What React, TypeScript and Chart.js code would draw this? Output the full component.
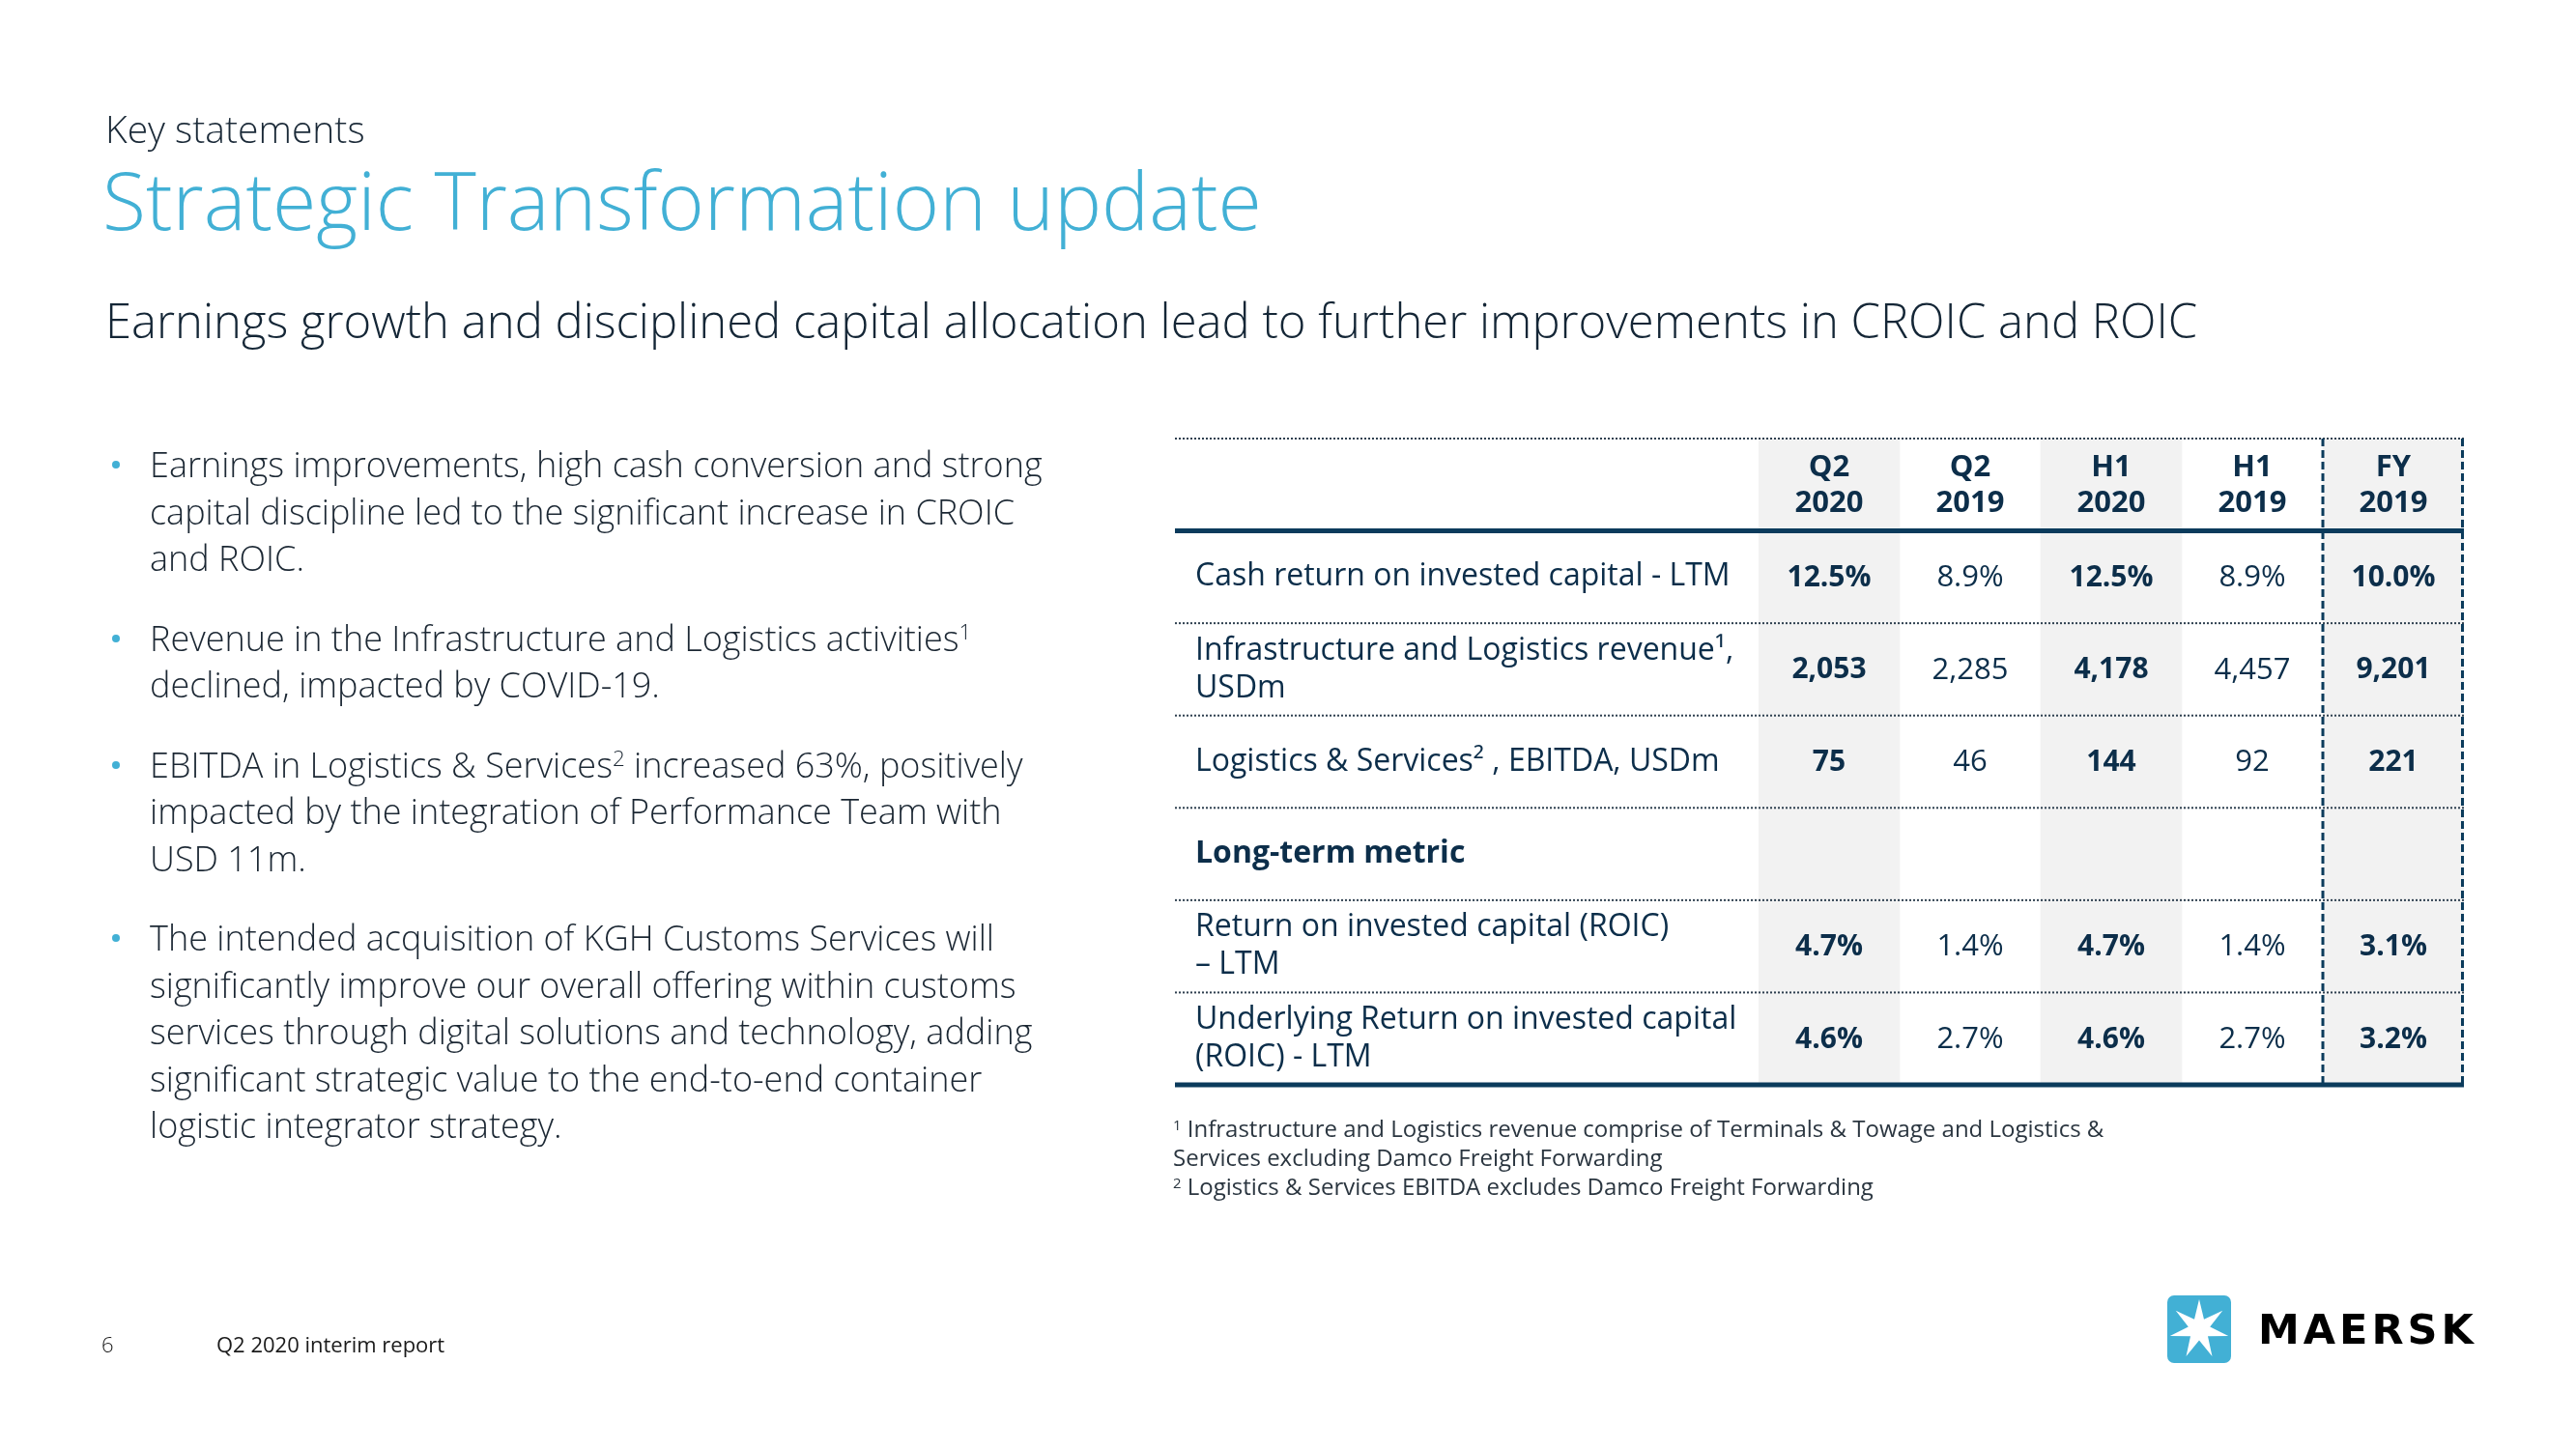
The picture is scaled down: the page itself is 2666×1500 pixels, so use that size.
import React, { useEffect, useRef } from "react";
import { Chart, registerables } from "chart.js";

Chart.register(...registerables);

// ---------- data ----------
const rowLabels: (string | string[])[] = [
  "",
  "Cash return on invested capital - LTM",
  ["Infrastructure and Logistics revenue\u00B9,", "USDm"],
  "Logistics & Services\u00B2 , EBITDA, USDm",
  "Long-term metric",
  ["Return on invested capital (ROIC)", "\u2013 LTM"],
  ["Underlying Return on invested capital", "(ROIC) - LTM"],
];
const columnLabels = ["Q2 2020", "Q2 2019", "H1 2020", "H1 2019", "FY 2019"];
const columnHeaders: string[][] = [
  ["Q2", "2020"],
  ["Q2", "2019"],
  ["H1", "2020"],
  ["H1", "2019"],
  ["FY", "2019"],
];
const q2_2020 = ["12.5%", "2,053", "75", "", "4.7%", "4.6%"];
const q2_2019 = ["8.9%", "2,285", "46", "", "1.4%", "2.7%"];
const h1_2020 = ["12.5%", "4,178", "144", "", "4.7%", "4.6%"];
const h1_2019 = ["8.9%", "4,457", "92", "", "1.4%", "2.7%"];
const fy_2019 = ["10.0%", "9,201", "221", "", "3.1%", "3.2%"];
const columnValues = [q2_2020, q2_2019, h1_2020, h1_2019, fy_2019];
const highlightColumns = [true, false, true, false, true];
const boldRow = 4;

// ---------- style ----------
const NAVY_TEXT = "#0c2e4a";
const NAVY_LINE = "#0b3b5c";
const DOT_LINE = "#2f4050";
const SHADE = "#f2f2f2";
const MAERSK_BLUE = "#42B0D5";
const FONT = "'Open Sans', 'Noto Sans', sans-serif";
const TABLE_LEFT = 1216;

const tablePlugin = {
  id: "tableDecor",
  afterDatasetsDraw(chart: any) {
    const { ctx, chartArea } = chart;
    const x = chart.scales.x;
    const y = chart.scales.y;
    const right = chartArea.right;
    ctx.save();

    // row separators
    const nRows = rowLabels.length;
    for (let i = 0; i <= nRows; i++) {
      let yy: number;
      if (i === 0) yy = chartArea.top;
      else if (i === nRows) yy = chartArea.bottom;
      else yy = (y.getPixelForValue(i - 1) + y.getPixelForValue(i)) / 2;
      ctx.beginPath();
      if (i === 1 || i === nRows) {
        ctx.setLineDash([]);
        ctx.lineWidth = 5;
        ctx.strokeStyle = NAVY_LINE;
      } else {
        ctx.setLineDash([2, 2]);
        ctx.lineWidth = 2;
        ctx.strokeStyle = DOT_LINE;
      }
      ctx.moveTo(TABLE_LEFT, yy);
      ctx.lineTo(right, yy);
      ctx.stroke();
    }

    // dashed verticals around the full-year column
    const last = columnLabels.length - 1;
    const xs = [
      (x.getPixelForValue(last - 1) + x.getPixelForValue(last)) / 2,
      right - 1.5,
    ];
    ctx.setLineDash([8, 4]);
    ctx.lineWidth = 3;
    ctx.strokeStyle = NAVY_LINE;
    xs.forEach((xx) => {
      ctx.beginPath();
      ctx.moveTo(xx, chartArea.top);
      ctx.lineTo(xx, chartArea.bottom);
      ctx.stroke();
    });
    ctx.setLineDash([]);

    // headers
    ctx.fillStyle = NAVY_TEXT;
    ctx.textAlign = "center";
    ctx.textBaseline = "middle";
    ctx.font = `bold 31px ${FONT}`;
    const hy = y.getPixelForValue(0);
    columnHeaders.forEach((lines, c) => {
      const cx = x.getPixelForValue(c);
      ctx.fillText(lines[0], cx, hy - 18);
      ctx.fillText(lines[1], cx, hy + 19);
    });

    // cells
    columnValues.forEach((vals, c) => {
      const cx = x.getPixelForValue(c);
      ctx.font = highlightColumns[c]
        ? `bold 30px ${FONT}`
        : `normal 31px ${FONT}`;
      vals.forEach((v, r) => {
        if (!v) return;
        ctx.fillText(v, cx, y.getPixelForValue(r + 1) + 1);
      });
    });
    ctx.restore();
  },
};

function TableChart() {
  const ref = useRef<HTMLCanvasElement | null>(null);
  useEffect(() => {
    if (!ref.current) return;
    const chart = new Chart(ref.current, {
      type: "bar",
      data: {
        labels: columnLabels,
        datasets: [
          {
            label: "shade",
            data: highlightColumns.map((h) => (h ? [0, 1] : null)) as any,
            backgroundColor: SHADE,
            borderWidth: 0,
            barPercentage: 1,
            categoryPercentage: 1,
            xAxisID: "x",
            yAxisID: "yShade",
          },
        ],
      },
      options: {
        animation: false,
        responsive: false,
        maintainAspectRatio: false,
        devicePixelRatio: 1,
        events: [],
        layout: {
          padding: { left: 1237, right: 116, top: 454, bottom: 377 },
        },
        plugins: {
          legend: { display: false },
          tooltip: { enabled: false },
          title: { display: false },
        },
        scales: {
          x: {
            type: "category",
            display: false,
            offset: true,
            grid: { display: false },
          },
          yShade: {
            type: "linear",
            display: false,
            min: 0,
            max: 1,
          },
          y: {
            type: "category",
            labels: rowLabels as any,
            position: "left",
            offset: true,
            grid: { display: false, drawTicks: false },
            border: { display: false },
            afterFit: (scale: any) => {
              scale.width = 583;
            },
            ticks: {
              autoSkip: false,
              crossAlign: "far",
              padding: 0,
              color: NAVY_TEXT,
              font: (ctx: any) => ({
                family: FONT,
                size: 32,
                weight: ctx.index === boldRow ? "bold" : "normal",
                lineHeight: 1.22,
              }),
            },
          },
        },
      } as any,
      plugins: [tablePlugin],
    });
    return () => chart.destroy();
  }, []);
  return (
    <canvas
      ref={ref}
      width={2666}
      height={1500}
      style={{ position: "absolute", left: 0, top: 0, width: 2666, height: 1500 }}
    />
  );
}

const supB: React.CSSProperties = { fontSize: "0.62em", verticalAlign: "0.55em", lineHeight: 0 };

const bullets: React.ReactNode[][] = [
  [
    "Earnings improvements, high cash conversion and strong",
    "capital discipline led to the significant increase in CROIC",
    "and ROIC.",
  ],
  [
    <>Revenue in the Infrastructure and Logistics activities<sup style={supB}>1</sup></>,
    "declined, impacted by COVID-19.",
  ],
  [
    <>EBITDA in Logistics &amp; Services<sup style={supB}>2</sup> increased 63%, positively</>,
    "impacted by the integration of Performance Team with",
    "USD 11m.",
  ],
  [
    "The intended acquisition of KGH Customs Services will",
    "significantly improve our overall offering within customs",
    "services through digital solutions and technology, adding",
    "significant strategic value to the end-to-end container",
    "logistic integrator strategy.",
  ],
];

function Star() {
  const cx = 33, cy = 35, R = 31, r = 11.5, n = 7;
  const pts: string[] = [];
  for (let i = 0; i < n * 2; i++) {
    const a = -Math.PI / 2 + (i * Math.PI) / n;
    const rad = i % 2 === 0 ? R : r;
    pts.push(`${(cx + rad * Math.cos(a)).toFixed(2)},${(cy + rad * Math.sin(a)).toFixed(2)}`);
  }
  return (
    <svg width={66} height={70} style={{ position: "absolute", left: 2243, top: 1341 }}>
      <rect x={0} y={0} width={66} height={70} rx={7} ry={7} fill={MAERSK_BLUE} />
      <polygon points={pts.join(" ")} fill="#ffffff" />
    </svg>
  );
}

export default function App() {
  const text: React.CSSProperties = {
    position: "absolute",
    whiteSpace: "nowrap",
    fontFamily: FONT,
    margin: 0,
  };
  const supStyle: React.CSSProperties = { fontSize: "0.62em", verticalAlign: "0.5em", lineHeight: 0 };
  return (
    <div
      style={{
        position: "absolute",
        left: 0,
        top: 0,
        width: 2666,
        height: 1500,
        overflow: "hidden",
        background: "#ffffff",
      }}
    >
      <TableChart />
      <div style={{ ...text, left: 109, top: 108, fontSize: 39, lineHeight: "50px", fontWeight: 300, color: "#1b2a38" }}>
        Key statements
      </div>
      <div style={{ ...text, left: 106, top: 156, fontSize: 82.5, lineHeight: "100px", fontWeight: 300, color: MAERSK_BLUE }}>
        Strategic Transformation update
      </div>
      <div style={{ ...text, left: 109, top: 301, fontSize: 49, lineHeight: "60px", fontWeight: 300, color: "#142636" }}>
        Earnings growth and disciplined capital allocation lead to further improvements in CROIC and ROIC
      </div>

      <div style={{ position: "absolute", left: 155, top: 457 }}>
        {bullets.map((lines, i) => (
          <div key={i} style={{ position: "relative", marginBottom: 34 }}>
            <span
              style={{
                position: "absolute",
                left: -39,
                top: 20,
                width: 8,
                height: 8,
                borderRadius: 4,
                background: MAERSK_BLUE,
              }}
            />
            {lines.map((l, j) => (
              <div
                key={j}
                style={{
                  whiteSpace: "nowrap",
                  fontFamily: FONT,
                  fontSize: 36,
                  lineHeight: "48.5px",
                  fontWeight: 300,
                  color: "#1b2733",
                }}
              >
                {l}
              </div>
            ))}
          </div>
        ))}
      </div>

      <div style={{ ...text, left: 1214, top: 1153, fontSize: 24, lineHeight: "30px", color: "#2b3640" }}>
        <div><sup style={supStyle}>1</sup> Infrastructure and Logistics revenue comprise of Terminals &amp; Towage and Logistics &amp;</div>
        <div>Services excluding Damco Freight Forwarding</div>
        <div><sup style={supStyle}>2</sup> Logistics &amp; Services EBITDA excludes Damco Freight Forwarding</div>
      </div>

      <div style={{ ...text, left: 105, top: 1376, fontSize: 22, lineHeight: "30px", fontWeight: 300, color: "#1a1a1a" }}>6</div>
      <div style={{ ...text, left: 224, top: 1376, fontSize: 22, lineHeight: "30px", color: "#1a1a1a" }}>Q2 2020 interim report</div>

      <Star />
      <div
        style={{
          ...text,
          left: 2337,
          top: 1351,
          fontFamily: "'DejaVu Sans', sans-serif",
          fontSize: 43,
          lineHeight: "50px",
          fontWeight: 900,
          letterSpacing: 4,
          color: "#000000",
        }}
      >
        MAERSK
      </div>
    </div>
  );
}
